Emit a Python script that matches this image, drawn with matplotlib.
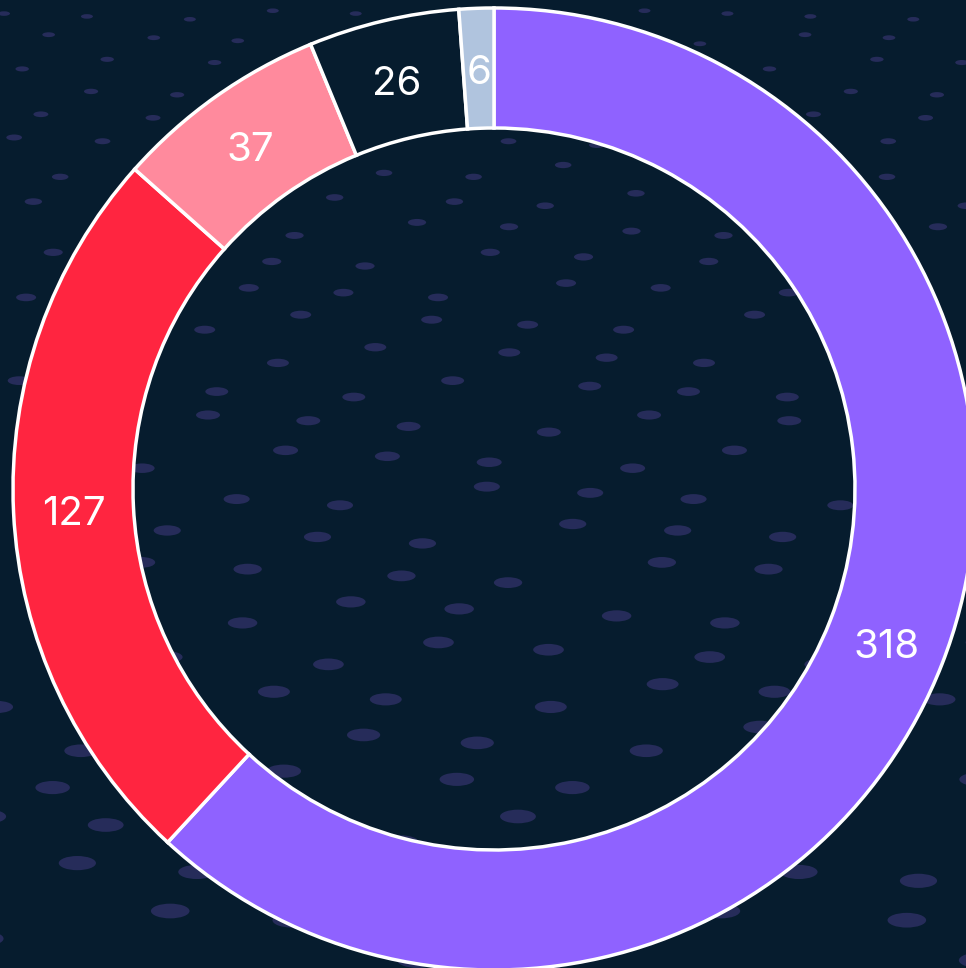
import numpy as np
import matplotlib
matplotlib.use("Agg")
import matplotlib.pyplot as plt
from matplotlib.patches import Ellipse

# Data
labels = ["A", "B", "C", "D", "E"]
values = [318, 127, 37, 26, 6]
colors = ["#8f62ff", "#ff2540", "#ff8a9d", "#061c2e", "#b0c4de"]

BG = "#061c2e"
DOT = "#262c5a"

W, H = 966, 968
fig = plt.figure(figsize=(W / 100, H / 100), dpi=100, facecolor=BG)
ax = fig.add_axes([0, 0, 1, 1])
ax.set_facecolor(BG)

# decorative perspective dot pattern (deterministic staggered grid)
y = 15.0
row = 0
while y < H + 30:
    t = y / H
    s = 0.55 + 1.35 * t
    dx = 120 * (0.75 + 0.5 * t)
    off = (row * 0.618 % 1.0) * dx
    x = -dx + off
    col = 0
    while x < W + dx:
        jx = ((row * 7 + col * 3) % 5 - 2) * 7 * s
        jy = ((row * 3 + col * 5) % 4 - 1.5) * 5 * s
        e = Ellipse((x + jx, H - (y + jy)), width=21 * s, height=8 * s,
                    facecolor=DOT, edgecolor="none", zorder=0)
        ax.add_patch(e)
        x += dx
        col += 1
    y += 34 * (0.7 + 0.8 * t)
    row += 1

cx, cy = 494, H - 489
R = 481
ring = 120
wedges, texts = ax.pie(
    values, radius=R, center=(cx, cy), startangle=90, counterclock=False,
    colors=colors, frame=True,
    wedgeprops=dict(width=ring, edgecolor="white", linewidth=2.5),
)
ax.set_xlim(0, W)
ax.set_ylim(0, H)
ax.set_aspect("equal")
ax.axis("off")

total = sum(values)
ang = 90.0
for v, w in zip(values, wedges):
    w.set_zorder(2)
    span = 360.0 * v / total
    mid = np.deg2rad(ang - span / 2)
    r = R - ring / 2
    ax.text(cx + r * np.cos(mid), cy + r * np.sin(mid) - 5, str(v),
            ha="center", va="center", color="white", fontsize=29,
            family=["Inter", "DejaVu Sans"], zorder=3)
    ang -= span

fig.savefig("out.png", dpi=100, facecolor=BG)
